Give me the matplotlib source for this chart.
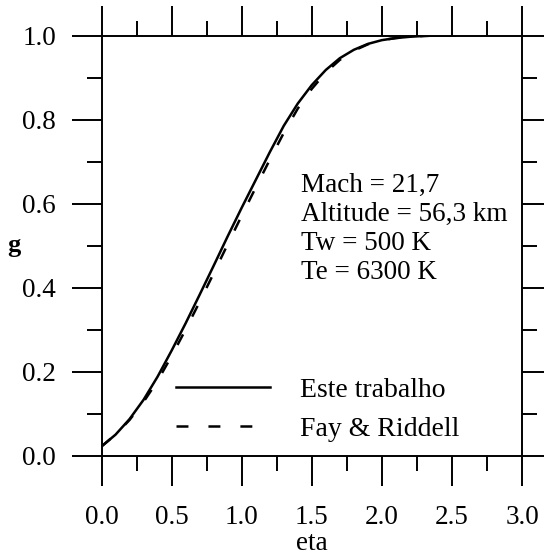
import numpy as np
import matplotlib
matplotlib.use('Agg')
import matplotlib.pyplot as plt
from matplotlib.ticker import MultipleLocator

plt.rcParams['font.family'] = ['Liberation Serif', 'DejaVu Serif']
plt.rcParams['lines.scale_dashes'] = False

# curves
eta = [0.0, 0.1, 0.2, 0.3, 0.4, 0.5, 0.6, 0.7, 0.8, 0.9, 1.0, 1.1, 1.2, 1.3,
       1.4, 1.5, 1.6, 1.7, 1.8, 1.9, 2.0, 2.1, 2.2, 2.3, 2.4, 2.52]
g_este = [0.022, 0.05, 0.087, 0.133, 0.188, 0.25, 0.315, 0.383, 0.452, 0.522,
          0.59, 0.656, 0.722, 0.785, 0.838, 0.882, 0.918, 0.946, 0.966, 0.980,
          0.989, 0.994, 0.997, 0.999, 1.0, 1.0]
g_fay = [0.022, 0.05, 0.085, 0.128, 0.178, 0.237, 0.300, 0.366, 0.434, 0.503,
         0.571, 0.638, 0.704, 0.768, 0.826, 0.873, 0.912, 0.942, 0.964, 0.979,
         0.989, 0.994, 0.997, 0.999, 1.0, 1.0]

labels = ['Este trabalho', 'Fay & Riddell']
info = ['Mach = 21,7', 'Altitude = 56,3 km', 'Tw = 500 K', 'Te = 6300 K']

fig = plt.figure(figsize=(5.44, 5.55), dpi=100)
ax = fig.add_axes([0.1866, 0.179, 0.773, 0.757])

ax.plot(eta, g_este, color='black', lw=1.8, label=labels[0])
ax.plot(eta, g_fay, color='black', lw=1.8, linestyle=(0, (8.6, 14.4)), label=labels[1])

ax.set_xlim(0, 3)
ax.set_ylim(0, 1)
ax.xaxis.set_major_locator(MultipleLocator(0.5))
ax.xaxis.set_minor_locator(MultipleLocator(0.25))
ax.yaxis.set_major_locator(MultipleLocator(0.2))
ax.yaxis.set_minor_locator(MultipleLocator(0.1))
ax.xaxis.set_major_formatter(plt.FormatStrFormatter('%.1f'))
ax.yaxis.set_major_formatter(plt.FormatStrFormatter('%.1f'))

ax.tick_params(which='both', direction='out', top=True, right=True, width=1.4,
               labelsize=19.5)
ax.tick_params(which='major', length=21.6)
ax.tick_params(which='minor', length=10.8)
ax.tick_params(axis='y', pad=11)
ax.tick_params(axis='x', pad=14)
for s in ax.spines.values():
    s.set_linewidth(1.4)

ax.set_xlabel('eta', fontsize=19.5, va='baseline')
ax.xaxis.set_label_coords(0.5, -0.225)
ax.set_ylabel('g', fontsize=19, fontweight='bold', rotation=0, va='center', ha='center')
ax.yaxis.set_label_coords(-0.208, 0.5)

ax.text(0.474, 0.54, '\n'.join(info), transform=ax.transAxes, fontsize=19.5,
        ha='left', va='center', linespacing=1.22)

ax.legend(loc='center left', bbox_to_anchor=(0.177, 0.11), frameon=False,
          fontsize=20, handlelength=3.4, handletextpad=1.05, labelspacing=0.48,
          borderpad=0, borderaxespad=0)

fig.savefig('out.png', dpi=100)
